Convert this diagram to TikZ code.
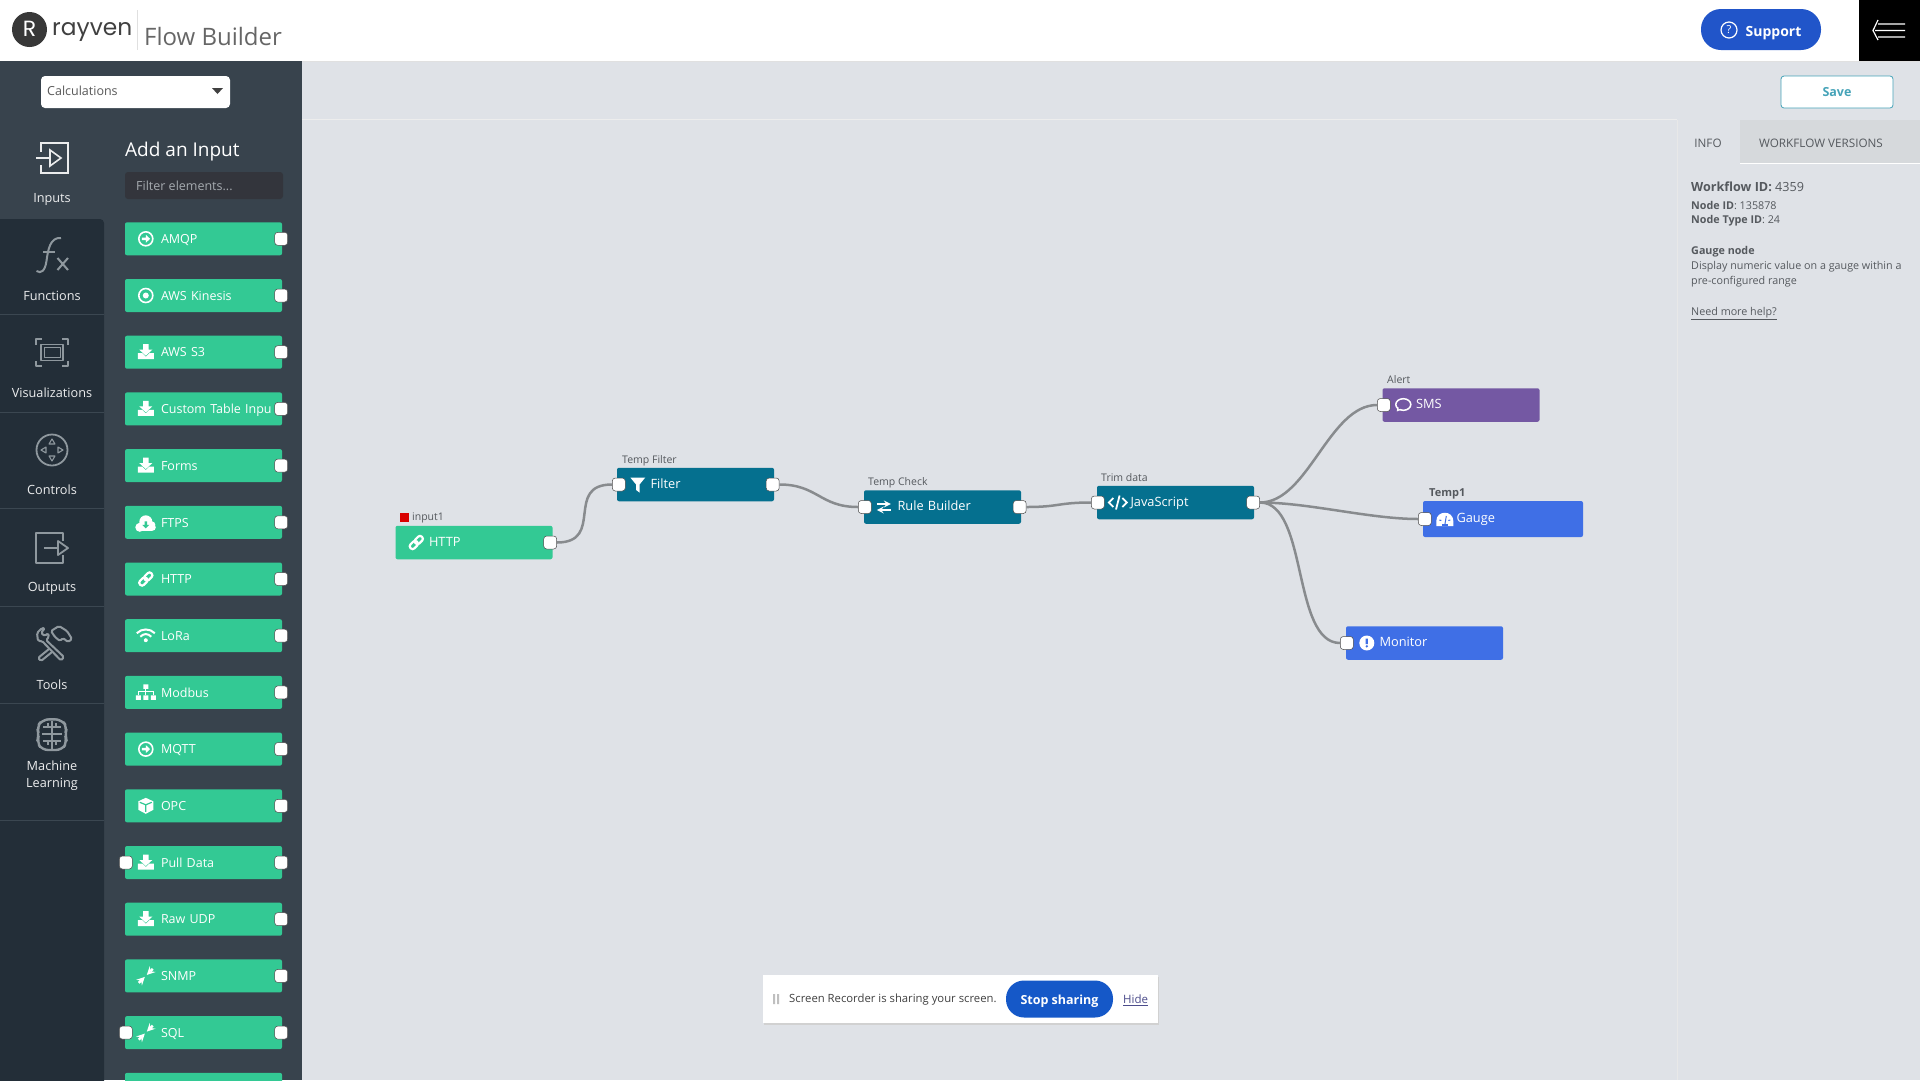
\documentclass[tikz,border=0pt]{standalone}
\usepackage{fontspec}
\usepackage{xcolor}
\setmainfont{Open Sans}
\newfontfamily\logofont{Poppins}

\definecolor{canvasbg}{HTML}{DFE2E7}
\definecolor{panelbg}{HTML}{38434D}
\definecolor{railbg}{HTML}{232E38}
\definecolor{railline}{HTML}{3B4751}
\definecolor{railicon}{HTML}{8F989E}
\definecolor{searchbg}{HTML}{33353C}
\definecolor{inputgreen}{HTML}{33C994}
\definecolor{flowteal}{HTML}{05708F}
\definecolor{alertpurple}{HTML}{7458A3}
\definecolor{visualblue}{HTML}{3F6FE6}
\definecolor{wiregray}{HTML}{888B8E}
\definecolor{infotext}{HTML}{55595E}
\definecolor{savetext}{HTML}{45A3B8}
\definecolor{supportblue}{HTML}{2155C9}
\definecolor{stopblue}{HTML}{1558C8}
\definecolor{tabgray}{HTML}{D6D9DC}

\newcommand{\fpx}[1]{\fontsize{#1}{#1}\selectfont}

\tikzset{
    inputbox/.style={rectangle,fill=inputgreen,rounded corners=2pt,text=white,font=\fpx{12.5},
        text width=157pt,inner xsep=0pt,minimum height=33pt,text height=12.5pt,text depth=3pt,align=left,
        execute at begin node={\hspace*{36pt}}},
    flowbox/.style={rectangle,rounded corners=2pt,text=white,font=\fpx{12.8},
        text width=157pt,inner xsep=0pt,minimum height=33.5pt,text height=10.5pt,text depth=3pt,align=left,
        execute at begin node={\hspace*{33.5pt}}},
    port/.style={rectangle,draw=black!70,line width=0.5pt,fill=white,rounded corners=3pt,
        minimum width=13pt,minimum height=13pt,inner sep=0pt},
    wire/.style={draw=wiregray,line width=2.5pt},
    flowlabel/.style={anchor=west,inner sep=0pt,text=infotext,font=\fpx{10.5}},
    raillabel/.style={text=white!90!panelbg,font=\fpx{12.7},inner sep=0pt},
    infoline/.style={anchor=west,inner sep=0pt,text=infotext,font=\fpx{10.75}},
    railstroke/.style={draw=railicon,line width=1.8pt,line join=round},
    dlicon/.pic={
        \fill[white] (-2.8,-8) -- (2.8,-8) -- (2.8,-2.5) -- (6.5,-2.5) -- (0,3.5) -- (-6.5,-2.5) -- (-2.8,-2.5) -- cycle;
        \fill[white] (-8,1) -- (-3.5,1) -- (0,4.5) -- (3.5,1) -- (8,1) -- (8,7) -- (-8,7) -- cycle;
    },
    circarrowicon/.pic={
        \draw[white,line width=1.6pt] (0,0) circle (7pt);
        \fill[white] (-4,-1.3) -- (0,-1.3) -- (0,-4) -- (4.3,0) -- (0,4) -- (0,1.3) -- (-4,1.3) -- cycle;
    },
    targeticon/.pic={
        \draw[white,line width=1.6pt] (0,0) circle (7pt);
        \fill[white] (0,0) circle (3pt);
    },
    cloudicon/.pic={
        \fill[white] (-6,5) circle (4.5pt) (0,-0.5) circle (6.5pt) (6,2.5) circle (3.5pt) (6.5,5) circle (3.5pt) (-6,1) rectangle (6.5,8.5);
        \fill[inputgreen] (-1.2,-1) rectangle (1.2,2.5) (-3.5,2.5) -- (3.5,2.5) -- (0,6) -- cycle;
    },
    linkicon/.pic={
        \draw[white,line width=2.2pt,rounded corners=2.5pt,rotate=45] (-8,-2.8) rectangle (1,2.8);
        \draw[white,line width=2.2pt,rounded corners=2.5pt,rotate=45] (-1,-2.8) rectangle (8,2.8);
    },
    wifiicon/.pic={
        \draw[white,line width=2pt] (-9,-2.5) .. controls (-4,-7.5) and (4,-7.5) .. (9,-2.5);
        \draw[white,line width=2pt] (-5.5,1) .. controls (-2,-2.5) and (2,-2.5) .. (5.5,1);
        \fill[white] (0,4.5) circle (2pt);
    },
    sitemapicon/.pic={
        \fill[white] (-2.5,-8) rectangle (2.5,-3.5) (-10,3) rectangle (-5,7.5) (-2.5,3) rectangle (2.5,7.5) (5,3) rectangle (10,7.5);
        \draw[white,line width=1pt] (0,-4) -- (0,3) (-7.5,3) -- (-7.5,-0.5) -- (7.5,-0.5) -- (7.5,3);
    },
    cubeicon/.pic={
        \fill[white] (0,-8) -- (7.5,-4.5) -- (7.5,4) -- (0,8) -- (-7.5,4) -- (-7.5,-4.5) -- cycle;
        \draw[inputgreen,line width=1.2pt] (-6,-3.5) -- (0,-1) -- (6,-3.5) (0,-1) -- (0,6);
    },
    pinchicon/.pic={
        \draw[white,line width=2.5pt,->] (-7,7) -- (-1,1);
        \draw[white,line width=2.5pt,->] (7,-7) -- (1,-1);
    },
    funnelicon/.pic={
        \fill[white] (-7.5,-7) -- (7.5,-7) -- (1.7,0) -- (1.7,8) -- (-1.7,5.5) -- (-1.7,0) -- cycle;
    },
    swapicon/.pic={
        \draw[white,line width=2pt,->] (-7,-3) -- (7,-3);
        \draw[white,line width=2pt,->] (7,3) -- (-7,3);
    },
    codeicon/.pic={
        \draw[white,line width=1.8pt] (-4.5,-4.5) -- (-9,0) -- (-4.5,4.5) (4.5,-4.5) -- (9,0) -- (4.5,4.5) (1.8,-7) -- (-1.8,7);
    },
    bubbleicon/.pic={
        \draw[white,line width=1.5pt] (0,-0.5) ellipse (7.5pt and 5.8pt);
        \fill[white] (-6,2) -- (-6.5,6.5) -- (-1.5,4.5) -- cycle;
        \fill[alertpurple] (-4.5,2.5) -- (-4.8,4.3) -- (-2.5,3.5) -- cycle;
    },
    gaugeicon/.pic={
        \fill[white] (-8.5,7) -- (-8.5,2) .. controls (-8.5,-9) and (8.5,-9) .. (8.5,2) -- (8.5,7) -- cycle;
        \draw[visualblue,line width=1pt] (0,6) -- (1.5,-3) (-5.5,1) -- (-3.5,1.5) (5.5,1) -- (3.5,1.5);
        \fill[visualblue] (-3,7) rectangle (3,4.5);
    },
    warnicon/.pic={
        \fill[white] (0,0) circle (7.5pt);
        \fill[visualblue] (-1.1,-4.5) rectangle (1.1,1) (0,3.3) circle (1.3pt);
    },
    inputsicon/.pic={
        \draw[draw=white!90!panelbg,line width=1.6pt] (-11,-6) -- (-11,-15) -- (16,-15) -- (16,15) -- (-11,15) -- (-11,7);
        \draw[draw=white!90!panelbg,line width=1.6pt] (-16,0) -- (-2,0) (-2,-8) -- (9,0) -- (-2,8) -- cycle;
    },
    fxicon/.pic={
        \draw[railicon,line width=2pt] (-15.5,15) .. controls (-11,18) and (-7,15) .. (-5.5,5) .. controls (-4,-6) and (-2,-19) .. (9,-18);
        \draw[railicon,line width=1.6pt] (-9,-4) -- (3,-4);
        \draw[railicon,line width=2pt] (5.5,2) -- (16,14) (16,2) -- (5.5,14);
    },
    visualicon/.pic={
        \draw[railstroke] (-16,-8) -- (-16,-13.5) -- (-10,-13.5) (10,-13.5) -- (16,-13.5) -- (16,-8) (16,8) -- (16,13.5) -- (10,13.5) (-10,13.5) -- (-16,13.5) -- (-16,8);
        \draw[railstroke] (-11,-8) rectangle (11,8);
        \draw[railstroke,line width=1pt] (-8,-5) rectangle (8,5);
    },
    controlsicon/.pic={
        \draw[railstroke] (0,0) circle (15.5pt);
        \draw[railstroke,line width=1.1pt] (-3,-6) -- (3,-6) -- (0,-11) -- cycle (-3,6) -- (3,6) -- (0,11) -- cycle (-6,-3) -- (-6,3) -- (-11,0) -- cycle (6,-3) -- (6,3) -- (11,0) -- cycle;
    },
    outputsicon/.pic={
        \draw[railstroke] (11,-7) -- (11,-15) -- (-16,-15) -- (-16,15) -- (11,15) -- (11,7);
        \draw[railstroke] (-8,0) -- (6,0) (6,-7) -- (16,0) -- (6,7) -- cycle;
    },
    toolsicon/.pic={
        \draw[railstroke,rounded corners=1.5pt,line width=2pt] (-15,-11) -- (-10,-16) -- (-7,-16) -- (-11,-11) -- (-7,-8) -- (-4,-11) -- (-3,-7) -- (-6,-4) -- (12,13) -- (9,16.5) -- (-10,-3) -- (-14,-3) -- cycle;
        \draw[railstroke,rounded corners=1.5pt,line width=2pt] (-1,-13) -- (7,-18) -- (15,-13) -- (20,-5) -- (16,-2) -- (11,-6) -- (8,-3) -- (3,-7) -- cycle;
        \draw[railstroke,rounded corners=1.5pt,line width=2pt] (-3,5) -- (-14,14) -- (-11,17) -- (0,8);
    },
    brainicon/.pic={
        \draw[railstroke,line width=2.4pt,rounded corners=6pt] (0,-16) -- (-10,-15) -- (-15,-8) -- (-13,0) -- (-15,7) -- (-10,15) -- (10,15) -- (15,7) -- (13,0) -- (15,-8) -- (10,-15) -- cycle;
        \draw[railstroke,line width=1.4pt] (0,-14) -- (0,15) (-9,-8) -- (9,-8) (-10,-1) -- (10,-1) (-9,6) -- (9,6) (-4,-12) -- (-4,-8) (4,-12) -- (4,-8) (-4,10) -- (-4,6) (4,10) -- (4,6);
    },
}

\begin{document}
\begin{tikzpicture}[x=1pt,y=-1pt,node distance=56.7pt,>=stealth]
    \useasboundingbox (0,0) rectangle (1920,1080);
    \fill[canvasbg] (0,0) rectangle (1920,1080);
    \fill[white] (0,0) rectangle (1920,61);
    \fill[black!12] (0,61) rectangle (1920,62);
    \fill[panelbg] (0,61) rectangle (302,1080);
    \fill[railbg,rounded corners=4pt] (-10,219) rectangle (104,1100);
    \draw[railline] (0,314) -- (104,314);
    \draw[railline] (0,412) -- (104,412);
    \draw[railline] (0,508) -- (104,508);
    \draw[railline] (0,606) -- (104,606);
    \draw[railline] (0,703) -- (104,703);
    \draw[railline] (0,820) -- (104,820);
    \draw[black!7] (302,119) -- (1677,119);
    \draw[black!9,line width=1pt] (1677,120) -- (1677,1080);
    \fill[tabgray] (1740,120) rectangle (1920,163);
    \draw[white] (1740,163) -- (1920,163);

    \fill[black!78] (29.5,29.5) circle (17.5pt);
    \node[inner sep=0pt,text=white,font=\fpx{22}\logofont] (logor) at (29.5,29) {R};
    \node[anchor=west,inner sep=0pt,text=black!75,font=\fpx{23.3}\logofont] (rayven) at (52,32) {rayven};
    \draw[black!12] (137,10) -- (137,50);
    \node[anchor=west,inner sep=0pt,text=black!60,font=\fpx{24}] (title) at (144,36) {Flow Builder};

    \node[rectangle,fill=supportblue,rounded corners=20pt,minimum width=120pt,minimum height=41pt,inner sep=0pt,text height=17.5pt,text depth=3pt,text=white,font=\fpx{14}\bfseries] (support) at (1761,29.5) {\hspace*{25pt}Support};
    \node[circle,draw=white,line width=1.2pt,minimum size=16pt,inner sep=0pt,text=white,font=\fpx{11}] (helpmark) at (1729,30) {?};
    \node[rectangle,fill=black,minimum width=61pt,minimum height=61pt,inner sep=0pt] (menu) at (1889.5,30.5) {};
    \draw[white,line width=1.2pt] (1878,20) -- (1873,30.5) -- (1878,40) (1878,24) -- (1905,24) (1875,30.5) -- (1905,30.5) (1878,37) -- (1905,37);

    \node[rectangle,fill=white,rounded corners=4pt,minimum width=189pt,minimum height=32pt,inner sep=0pt] (dropdown) at (135.5,92) {};
    \node[anchor=west,inner sep=0pt,text=black!65,font=\fpx{12.5}] (calc) at (47,90.5) {Calculations};
    \fill[black!75] (212,88) -- (223,88) -- (217.5,94) -- cycle;
    \node[anchor=west,inner sep=0pt,text=white,font=\fpx{19}] (addinput) at (125,151.5) {Add an Input};
    \node[rectangle,fill=searchbg,rounded corners=3pt,minimum width=158pt,minimum height=27pt,inner sep=0pt] (filterbox) at (204,185.5) {};
    \node[anchor=west,inner sep=0pt,text=white!55!panelbg,font=\fpx{12.5}] (filtertext) at (136,185.5) {Filter elements...};

    \pic at (52,158) {inputsicon};
    \node[raillabel] (inputs) at (52,199) {Inputs};
    \pic at (52,256) {fxicon};
    \node[raillabel] (functions) at (52,296) {Functions};
    \pic at (52,352.5) {visualicon};
    \node[raillabel] (visualizations) at (52,393) {Visualizations};
    \pic at (52,450) {controlsicon};
    \node[raillabel] (controls) at (52,490) {Controls};
    \pic at (52,548) {outputsicon};
    \node[raillabel] (outputs) at (52,588) {Outputs};
    \pic at (52,644) {toolsicon};
    \node[raillabel] (tools) at (52,685) {Tools};
    \pic at (52,735) {brainicon};
    \node[raillabel] (machine) at (52,766) {Machine};
    \node[raillabel] (learning) at (52,784) {Learning};

    \node[inputbox] (amqp) at (203.5,238.8) {AMQP};
    \node[inputbox,below of=amqp] (kinesis) {AWS Kinesis};
    \node[inputbox,below of=kinesis] (awss) {AWS S3};
    \node[inputbox,below of=awss] (custom) {Custom Table Inpu};
    \node[inputbox,below of=custom] (forms) {Forms};
    \node[inputbox,below of=forms] (ftps) {FTPS};
    \node[inputbox,below of=ftps] (httplist) {HTTP};
    \node[inputbox,below of=httplist] (lora) {LoRa};
    \node[inputbox,below of=lora] (modbus) {Modbus};
    \node[inputbox,below of=modbus] (mqtt) {MQTT};
    \node[inputbox,below of=mqtt] (opc) {OPC};
    \node[inputbox,below of=opc] (pull) {Pull Data};
    \node[inputbox,below of=pull] (rawudp) {Raw UDP};
    \node[inputbox,below of=rawudp] (snmp) {SNMP};
    \node[inputbox,below of=snmp] (sql) {SQL};
    \node[inputbox,below of=sql] (nextinput) {};

    \pic at ([xshift=21pt]amqp.west) {circarrowicon};
    \pic at ([xshift=21pt]kinesis.west) {targeticon};
    \pic at ([xshift=21pt]awss.west) {dlicon};
    \pic at ([xshift=21pt]custom.west) {dlicon};
    \pic at ([xshift=21pt]forms.west) {dlicon};
    \pic at ([xshift=21pt]ftps.west) {cloudicon};
    \pic at ([xshift=21pt]httplist.west) {linkicon};
    \pic at ([xshift=21pt]lora.west) {wifiicon};
    \pic at ([xshift=21pt]modbus.west) {sitemapicon};
    \pic at ([xshift=21pt]mqtt.west) {circarrowicon};
    \pic at ([xshift=21pt]opc.west) {cubeicon};
    \pic at ([xshift=21pt]pull.west) {dlicon};
    \pic at ([xshift=21pt]rawudp.west) {dlicon};
    \pic at ([xshift=21pt]snmp.west) {pinchicon};
    \pic at ([xshift=21pt]sql.west) {pinchicon};

    \node[port] (amqpout) at ([xshift=-1pt]amqp.east) {};
    \node[port] (kinesisout) at ([xshift=-1pt]kinesis.east) {};
    \node[port] (awssout) at ([xshift=-1pt]awss.east) {};
    \node[port] (customout) at ([xshift=-1pt]custom.east) {};
    \node[port] (formsout) at ([xshift=-1pt]forms.east) {};
    \node[port] (ftpsout) at ([xshift=-1pt]ftps.east) {};
    \node[port] (httplistout) at ([xshift=-1pt]httplist.east) {};
    \node[port] (loraout) at ([xshift=-1pt]lora.east) {};
    \node[port] (modbusout) at ([xshift=-1pt]modbus.east) {};
    \node[port] (mqttout) at ([xshift=-1pt]mqtt.east) {};
    \node[port] (opcout) at ([xshift=-1pt]opc.east) {};
    \node[port] (pullout) at ([xshift=-1pt]pull.east) {};
    \node[port] (pullin) at ([xshift=1pt]pull.west) {};
    \node[port] (rawudpout) at ([xshift=-1pt]rawudp.east) {};
    \node[port] (snmpout) at ([xshift=-1pt]snmp.east) {};
    \node[port] (sqlout) at ([xshift=-1pt]sql.east) {};
    \node[port] (sqlin) at ([xshift=1pt]sql.west) {};

    \node[rectangle,draw=savetext,line width=0.8pt,fill=white,rounded corners=3pt,minimum width=112pt,minimum height=32pt,inner sep=0pt,text=savetext,font=\fpx{12.5}\bfseries] (save) at (1837,92) {Save};
    \node[inner sep=0pt,text=infotext,font=\fpx{11.7}] (infotab) at (1708,143) {INFO};
    \node[inner sep=0pt,text=infotext,font=\fpx{11.7}] (versionstab) at (1821,143) {WORKFLOW VERSIONS};
    \node[infoline,font=\fpx{12.6}] (workflowid) at (1691,187) {\textbf{Workflow ID:} 4359};
    \node[infoline] (nodeid) at (1691,205) {\textbf{Node ID}: 135878};
    \node[infoline] (nodetype) at (1691,220.5) {\textbf{Node Type ID}: 24};
    \node[infoline] (gaugetitle) at (1691,251.5) {\textbf{Gauge node}};
    \node[infoline] (gaugeone) at (1691,267) {Display numeric value on a gauge within a};
    \node[infoline] (gaugetwo) at (1691,282) {pre-configured range};
    \node[infoline] (morehelp) at (1691,313.5) {\underline{Need more help?}};

    \node[flowbox,fill=inputgreen] (http) at (474,542.5) {HTTP};
    \node[flowbox,fill=flowteal] (filter) at (695.5,484.5) {Filter};
    \node[flowbox,fill=flowteal] (rule) at (942.5,507) {Rule Builder};
    \node[flowbox,fill=flowteal] (js) at (1175.5,502.5) {JavaScript};
    \node[flowbox,fill=alertpurple] (sms) at (1461,405) {SMS};
    \node[flowbox,fill=visualblue,text width=160pt,minimum height=36pt] (gauge) at (1503,519) {Gauge};
    \node[flowbox,fill=visualblue] (monitor) at (1424.5,643) {Monitor};

    \pic at ([xshift=21pt]http.west) {linkicon};
    \pic at ([xshift=21pt]filter.west) {funnelicon};
    \pic at ([xshift=20pt]rule.west) {swapicon};
    \pic at ([xshift=21pt]js.west) {codeicon};
    \pic at ([xshift=21pt]sms.west) {bubbleicon};
    \pic at ([xshift=22pt]gauge.west) {gaugeicon};
    \pic at ([xshift=21pt]monitor.west) {warnicon};

    \fill[red!85!black] (400,513) rectangle (409,522);
    \node[flowlabel] (httplabel) at (412,518) {input1};
    \node[flowlabel] (filterlabel) at (622,460.5) {Temp Filter};
    \node[flowlabel] (rulelabel) at (868,482.5) {Temp Check};
    \node[flowlabel] (jslabel) at (1101,478) {Trim data};
    \node[flowlabel] (smslabel) at (1387,380) {Alert};
    \node[flowlabel,font=\fpx{11}\bfseries] (gaugelabel) at (1429,494) {Temp1};

    \node[port] (httpout) at ([xshift=-2.5pt]http.east) {};
    \node[port] (filterin) at ([xshift=2pt]filter.west) {};
    \node[port] (filterout) at ([xshift=-1.5pt]filter.east) {};
    \node[port] (rulein) at ([xshift=1pt]rule.west) {};
    \node[port] (ruleout) at ([xshift=-1.5pt]rule.east) {};
    \node[port] (jsin) at ([xshift=1pt]js.west) {};
    \node[port] (jsout) at ([xshift=-1pt]js.east) {};
    \node[port] (smsin) at ([xshift=1.5pt]sms.west) {};
    \node[port] (gaugein) at ([xshift=2pt]gauge.west) {};
    \node[port] (monitorin) at ([xshift=1pt]monitor.west) {};

    \draw[wire] (httpout) .. controls +(55,0) and +(-55,0) .. (filterin);
    \draw[wire] (filterout) .. controls +(45,0) and +(-45,0) .. (rulein);
    \draw[wire] (ruleout) .. controls +(40,0) and +(-40,0) .. (jsin);
    \draw[wire] (jsout) .. controls +(55,0) and +(-55,0) .. (smsin);
    \draw[wire] (jsout) .. controls +(55,0) and +(-55,0) .. (gaugein);
    \draw[wire] (jsout) .. controls +(55,0) and +(-55,0) .. (monitorin);

    \fill[black!18] (764,977) rectangle (1159,1025);
    \node[rectangle,fill=white,minimum width=395pt,minimum height=48pt,inner sep=0pt] (banner) at (960.5,999) {};
    \fill[black!25] (773,994) rectangle (775,1004) (777,994) rectangle (779,1004);
    \node[anchor=west,inner sep=0pt,text=black!75,font=\fpx{11.3}] (sharing) at (789,1000) {Screen Recorder is sharing your screen.};
    \node[rectangle,fill=stopblue,rounded corners=18pt,minimum width=107pt,minimum height=37pt,inner sep=0pt,text height=13pt,text depth=3pt,text=white,font=\fpx{12.5}\bfseries] (stop) at (1059.5,999) {Stop sharing};
    \node[anchor=west,inner sep=0pt,text=blue!35!black!70,font=\fpx{11.5}] (hide) at (1123,1000) {\underline{Hide}};
\end{tikzpicture}
\end{document}
